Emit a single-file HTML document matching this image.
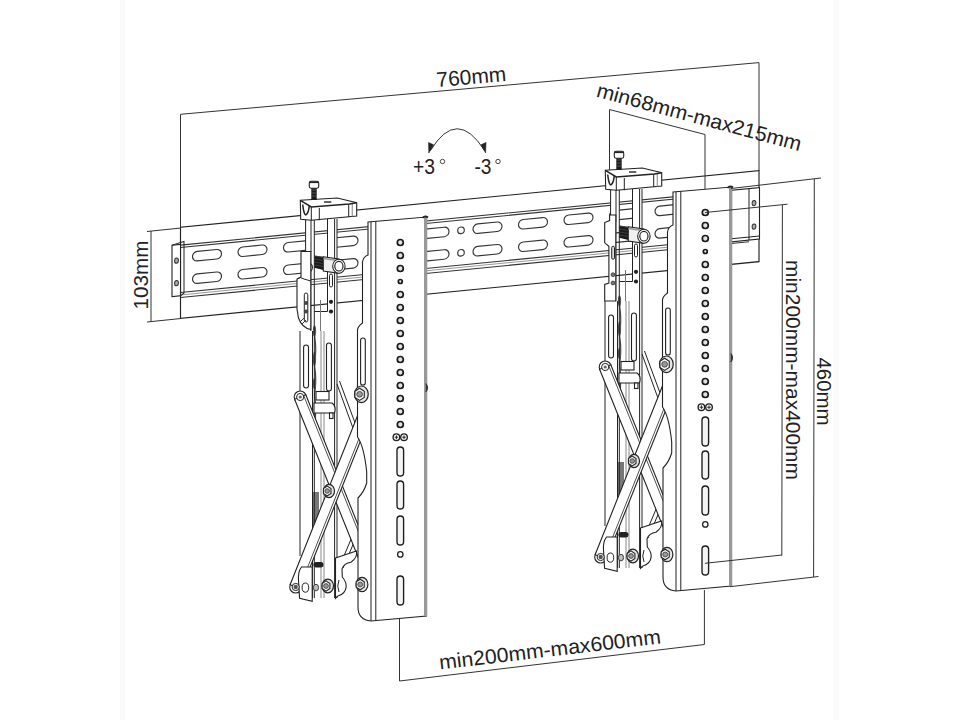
<!DOCTYPE html><html><head><meta charset="utf-8"><style>html,body{margin:0;padding:0;background:#fff;width:960px;height:720px;overflow:hidden}svg{display:block}</style></head><body><svg width="960" height="720" viewBox="0 0 960 720">
<rect width="960" height="720" fill="#fff"/>
<rect x="120" y="0" width="5" height="720" fill="#fafafa"/>
<rect x="834" y="0" width="5" height="720" fill="#fafafa"/>
<g transform="matrix(1,-0.098,0,1,0,0)">
<rect x="180.5" y="245" width="578.5" height="91" fill="#fff" stroke="#222" stroke-width="1.15"/>
<path d="M180.5 262.8 L749 262.8 M180.5 265.2 L749 265.2 M180.5 310.2 L749 310.2 M180.5 315.2 L749 315.2" stroke="#333" stroke-width="1.1" fill="none"/><path d="M180.5 312.6 L749 312.6" stroke="#999" stroke-width="1" fill="none"/>
<rect x="192.50" y="270.75" width="29.00" height="9.50" rx="4.75" fill="#fff" stroke="#333" stroke-width="1.15"/>
<rect x="192.50" y="293.25" width="29.00" height="9.50" rx="4.75" fill="#fff" stroke="#333" stroke-width="1.15"/>
<rect x="238.00" y="270.75" width="29.00" height="9.50" rx="4.75" fill="#fff" stroke="#333" stroke-width="1.15"/>
<rect x="238.00" y="293.25" width="29.00" height="9.50" rx="4.75" fill="#fff" stroke="#333" stroke-width="1.15"/>
<rect x="283.50" y="270.75" width="29.00" height="9.50" rx="4.75" fill="#fff" stroke="#333" stroke-width="1.15"/>
<rect x="283.50" y="293.25" width="29.00" height="9.50" rx="4.75" fill="#fff" stroke="#333" stroke-width="1.15"/>
<rect x="329.00" y="270.75" width="29.00" height="9.50" rx="4.75" fill="#fff" stroke="#333" stroke-width="1.15"/>
<rect x="329.00" y="293.25" width="29.00" height="9.50" rx="4.75" fill="#fff" stroke="#333" stroke-width="1.15"/>
<rect x="374.50" y="270.75" width="29.00" height="9.50" rx="4.75" fill="#fff" stroke="#333" stroke-width="1.15"/>
<rect x="374.50" y="293.25" width="29.00" height="9.50" rx="4.75" fill="#fff" stroke="#333" stroke-width="1.15"/>
<rect x="420.00" y="270.75" width="29.00" height="9.50" rx="4.75" fill="#fff" stroke="#333" stroke-width="1.15"/>
<rect x="420.00" y="293.25" width="29.00" height="9.50" rx="4.75" fill="#fff" stroke="#333" stroke-width="1.15"/>
<rect x="473.00" y="270.75" width="29.00" height="9.50" rx="4.75" fill="#fff" stroke="#333" stroke-width="1.15"/>
<rect x="473.00" y="293.25" width="29.00" height="9.50" rx="4.75" fill="#fff" stroke="#333" stroke-width="1.15"/>
<rect x="518.50" y="270.75" width="29.00" height="9.50" rx="4.75" fill="#fff" stroke="#333" stroke-width="1.15"/>
<rect x="518.50" y="293.25" width="29.00" height="9.50" rx="4.75" fill="#fff" stroke="#333" stroke-width="1.15"/>
<rect x="564.00" y="270.75" width="29.00" height="9.50" rx="4.75" fill="#fff" stroke="#333" stroke-width="1.15"/>
<rect x="564.00" y="293.25" width="29.00" height="9.50" rx="4.75" fill="#fff" stroke="#333" stroke-width="1.15"/>
<rect x="609.50" y="270.75" width="29.00" height="9.50" rx="4.75" fill="#fff" stroke="#333" stroke-width="1.15"/>
<rect x="609.50" y="293.25" width="29.00" height="9.50" rx="4.75" fill="#fff" stroke="#333" stroke-width="1.15"/>
<rect x="655.00" y="270.75" width="29.00" height="9.50" rx="4.75" fill="#fff" stroke="#333" stroke-width="1.15"/>
<rect x="655.00" y="293.25" width="29.00" height="9.50" rx="4.75" fill="#fff" stroke="#333" stroke-width="1.15"/>
<rect x="700.50" y="270.75" width="29.00" height="9.50" rx="4.75" fill="#fff" stroke="#333" stroke-width="1.15"/>
<rect x="700.50" y="293.25" width="29.00" height="9.50" rx="4.75" fill="#fff" stroke="#333" stroke-width="1.15"/>
<circle cx="461" cy="275.5" r="3.3" fill="#fff" stroke="#333" stroke-width="1.1"/>
<circle cx="461" cy="298" r="3.3" fill="#fff" stroke="#333" stroke-width="1.1"/>
<path d="M172 262 L180.5 262 L180.5 313.5 L172 313.5 Z" fill="#fff" stroke="#222" stroke-width="1.1"/>
<path d="M172 262 L184 259.5 L184 311 L180.5 313.5" stroke="#222" stroke-width="1" fill="none"/>
<ellipse cx="176.5" cy="278" rx="1.9" ry="2.6" fill="#aaa" stroke="#333" stroke-width="1"/>
<ellipse cx="176.5" cy="300.5" rx="1.9" ry="2.6" fill="#aaa" stroke="#333" stroke-width="1"/>
<rect x="731.5" y="262" width="28" height="51.5" fill="#fff" stroke="#222" stroke-width="1.1"/>
<path d="M749 262 L749 313.5 M731.5 310.5 L759.5 310.5" stroke="#222" stroke-width="1" fill="none"/>
<ellipse cx="754" cy="277" rx="1.9" ry="2.6" fill="#aaa" stroke="#333" stroke-width="1"/>
<ellipse cx="754" cy="300.5" rx="1.9" ry="2.6" fill="#aaa" stroke="#333" stroke-width="1"/>
</g>
<g><rect x="300" y="331" width="37" height="267" fill="#fff"/>
<path d="M300 331 L300 556 M312.5 331 L312.5 598" stroke="#222" stroke-width="1" fill="none"/>
<path d="M321 331 L321 598 M324 331 L324 598" stroke="#888" stroke-width="1" fill="none"/>
<path d="M314.5 335 Q317 350 314.5 365 Q317 380 314.5 395 Q317 410 314.5 425" stroke="#444" stroke-width="1.2" fill="none"/>
<path d="M313 492 L319 492 L319 525 L313 525 Z" fill="#777"/>
<ellipse cx="314.5" cy="331" rx="1.6" ry="5.5" fill="#555"/><ellipse cx="314.5" cy="359" rx="1.6" ry="7.5" fill="#555"/><ellipse cx="314.5" cy="383.5" rx="1.6" ry="5.5" fill="#555"/>
<rect x="303.6" y="345" width="4.9" height="43" rx="2.45" fill="#fff" stroke="#222" stroke-width="1.1"/>
<rect x="326.5" y="343" width="4.9" height="48" rx="2.45" fill="#fff" stroke="#222" stroke-width="1.1"/>
<rect x="305.6" y="219" width="8.7" height="35" fill="#fff"/>
<rect x="327.5" y="219" width="9.5" height="92.5" fill="#fff"/>
<path d="M305.6 219 L305.6 252 M311 219 L311 252 M310.8 252 L310.8 331 M314.3 219 L314.3 598 M327.5 219 L327.5 311.5 L314.3 311.5 M334.6 219 L334.6 598 M337 219 L337 598" stroke="#222" stroke-width="1" fill="none"/>
<path d="M320.5 300 L320.5 331" stroke="#777" stroke-width="1"/>
<path d="M301 251.5 L310.8 251.5 L310.8 329.5 Q302 328 298.5 318 L297 309 L297 279 L301 277 Z" fill="#fff" stroke="#222" stroke-width="1.1"/>
<path d="M297 279 Q300 276 304 279 L310.8 281" stroke="#222" stroke-width="1" fill="none"/>
<rect x="304.3" y="293" width="3.5" height="29" rx="1.75" fill="#fff" stroke="#222" stroke-width="1"/>
<circle cx="306" cy="303" r="2.1" fill="#444"/><circle cx="306" cy="311.5" r="2.1" fill="#444"/>
<path d="M300 322 L304 318 M302 324 L306 320" stroke="#333" stroke-width="1"/>
<rect x="329.5" y="274" width="3" height="13" rx="1.5" fill="#fff" stroke="#222" stroke-width="1"/>
<circle cx="331" cy="301.8" r="2.1" fill="#222"/>
<circle cx="331" cy="311.5" r="2.1" fill="#222"/>
<path d="M314.3 255.5 L323.3 256.7 L323.3 270 L314.3 267.8 Z" fill="#1a1a1a"/>
<path d="M314.3 256 L323.3 257.5 M314.3 259 L323.3 260.5 M314.3 262 L323.3 263.5 M314.3 265 L323.3 266.5" stroke="#555" stroke-width="0.6"/>
<path d="M323.3 256.7 L338.9 259 L338.9 273.3 L323.3 271 Z" fill="#f0f0f0" stroke="#222" stroke-width="1.1"/>
<path d="M323.3 258.5 L338 260.5" stroke="#999" stroke-width="1.6"/>
<ellipse cx="338.9" cy="266.2" rx="6.2" ry="7" fill="#fff" stroke="#222" stroke-width="1.1"/>
<ellipse cx="338.9" cy="266.2" rx="4.1" ry="4.8" fill="none" stroke="#222" stroke-width="1.2"/>
<path d="M337 384 L358 442 M339.5 381 L358 431 M358.5 521.6 L338.6 568.6 M358 533 L343 568" stroke="#222" stroke-width="1" fill="none"/>
<circle cx="300.2" cy="397" r="6" fill="#fff" stroke="#222" stroke-width="1.1"/>
<path d="M294.6 399.2 L368.2 582.2 L379.3 577.8 L305.8 394.8 Z" fill="#fff" stroke="#222" stroke-width="1.1"/><path d="M303.7 395.6 L377.2 578.6" stroke="#222" stroke-width="0.8"/>
<circle cx="300.2" cy="397" r="3.6" fill="#fff" stroke="#222" stroke-width="1"/>
<circle cx="300.2" cy="397" r="1.6" fill="#666"/>
<circle cx="295.7" cy="587" r="6" fill="#fff" stroke="#222" stroke-width="1.1"/>
<path d="M365.9 394.8 L290.1 584.8 L301.3 589.2 L377.1 399.2 Z" fill="#fff" stroke="#222" stroke-width="1.1"/><path d="M375.0 398.4 L299.2 588.4" stroke="#222" stroke-width="0.8"/>
<ellipse cx="329" cy="491" rx="5.51" ry="6.67" fill="#e6e6e6" stroke="#222" stroke-width="1.2"/><polygon points="330.97,493.46 327.20,495.93 323.43,493.46 323.43,488.54 327.20,486.07 330.97,488.54" fill="#fafafa" stroke="#222" stroke-width="1.1"/><circle cx="327.2" cy="491" r="2.32" fill="#999" stroke="#333" stroke-width="0.8"/>
<rect x="316" y="391.5" width="13" height="8.5" fill="#fff" stroke="#222" stroke-width="1.1"/>
<path d="M314 403 L332 403 Q336.5 406 334.5 413 L314 413 Z" fill="#fff" stroke="#222" stroke-width="1.1"/>
<rect x="329.5" y="413" width="3.5" height="5.5" fill="#fff" stroke="#222" stroke-width="1.1"/>
<path d="M301.5 567 L312.2 567 L312.2 601.2 L299.6 598.3 L298.6 582 Q297.5 572 301.5 567 Z" fill="#fff" stroke="#222" stroke-width="1.1"/>
<ellipse cx="305.4" cy="587.6" rx="3.3" ry="4.6" fill="#fff" stroke="#222" stroke-width="1"/>
<circle cx="295.7" cy="587" r="3.6" fill="#fff" stroke="#222" stroke-width="1"/><circle cx="295.7" cy="587" r="2.2" fill="#555"/>
<rect x="313.5" y="562" width="10" height="5.5" rx="2.7" fill="#222"/>
<path d="M335.5 558 L356.4 551 Q358 557 351 562.3 Q344 563 342 569 L342.3 577 Q346.5 582 346.2 586.6 Q345.5 594 337.4 596.3 L335.5 598.3 Z" fill="#fff" stroke="#222" stroke-width="1.1"/>
<path d="M339 580 Q336.5 586 339 592" stroke="#222" stroke-width="1" fill="none"/>
<ellipse cx="327.8" cy="586" rx="5.70" ry="6.90" fill="#e6e6e6" stroke="#222" stroke-width="1.2"/><polygon points="329.90,588.55 326.00,591.10 322.10,588.55 322.10,583.45 326.00,580.90 329.90,583.45" fill="#fafafa" stroke="#222" stroke-width="1.1"/><circle cx="326.0" cy="586" r="2.40" fill="#999" stroke="#333" stroke-width="0.8"/>
<ellipse cx="316" cy="587.6" rx="2.6" ry="3.3" fill="#bbb" stroke="#333" stroke-width="0.9"/>
<path d="M300.3 200.3 L337.3 198 L356.7 202.7 L356.7 216 L311.3 220.3 L300.7 219.3 Z" fill="#fff" stroke="#222" stroke-width="1.1"/>
<path d="M311.3 207 L311.3 220.3 M319.3 208 L319.3 220.3 M348.7 204 L348.7 217" stroke="#222" stroke-width="1" fill="none"/>
<path d="M352.3 203.5 L352.3 216.5" stroke="#999" stroke-width="1.2"/>
<path d="M300.3 200.3 L311.3 207 L349.3 204 L356.7 202.7" stroke="#222" stroke-width="1.5" fill="none"/>
<path d="M302.7 204.5 Q304 216 306.2 214.7 Q308.5 213 309.3 205.8" stroke="#222" stroke-width="1.5" fill="none"/>
<path d="M324 202 L331.3 202" stroke="#333" stroke-width="1.5"/>
<rect x="311.3" y="187.5" width="5.4" height="12.5" fill="#1a1a1a"/>
<path d="M311.3 190 L316.7 190 M311.3 193 L316.7 193 M311.3 196 L316.7 196" stroke="#777" stroke-width="0.6"/>
<rect x="309.3" y="181.3" width="9.4" height="6.9" rx="1.6" fill="#fff" stroke="#222" stroke-width="1.1"/>
<path d="M309.8 182.3 L318.2 182.3" stroke="#222" stroke-width="1.6"/>
<path d="M368 222 L426.5 217 L426.5 616 L371 621 Q358 620 358 607 L358 498 Q364 492 366.7 483 L366.7 472 Q364 446 357.5 437 L357.5 330 Q358 326 362.5 323 L362.5 262 Q363 257 368 255 Z" fill="#fff" stroke="#222" stroke-width="1.1"/>
<path d="M425.6 217.5 L425.6 616" stroke="#999" stroke-width="3.2"/>
<path d="M422.5 218 Q425 215 428 217.5" stroke="#222" stroke-width="1.8" fill="none"/>
<path d="M425.8 383.5 Q429 387.8 425.8 392" fill="#333" stroke="#333" stroke-width="1.2"/>
<path d="M371 221.7 L371 621 M375.8 221.3 L375.8 620.6" stroke="#222" stroke-width="1" fill="none"/>
<rect x="360.6" y="338" width="4.7" height="47" rx="2.35" fill="#fff" stroke="#222" stroke-width="1.1"/>
<ellipse cx="361.4" cy="394.3" rx="6.84" ry="8.28" fill="#e6e6e6" stroke="#222" stroke-width="1.2"/><polygon points="364.28,397.36 359.60,400.42 354.92,397.36 354.92,391.24 359.60,388.18 364.28,391.24" fill="#fafafa" stroke="#222" stroke-width="1.1"/><circle cx="359.59999999999997" cy="394.3" r="2.88" fill="#999" stroke="#333" stroke-width="0.8"/>
<ellipse cx="362" cy="584.5" rx="5.89" ry="7.13" fill="#e6e6e6" stroke="#222" stroke-width="1.2"/><polygon points="364.23,587.13 360.20,589.77 356.17,587.13 356.17,581.87 360.20,579.23 364.23,581.87" fill="#fafafa" stroke="#222" stroke-width="1.1"/><circle cx="360.2" cy="584.5" r="2.48" fill="#999" stroke="#333" stroke-width="0.8"/>
<circle cx="400.3" cy="242.5" r="3.0" fill="#e2e2e2" stroke="#1a1a1a" stroke-width="1.7"/>
<circle cx="400.3" cy="255.5" r="3.0" fill="#e2e2e2" stroke="#1a1a1a" stroke-width="1.7"/>
<circle cx="400.3" cy="268.5" r="3.0" fill="#e2e2e2" stroke="#1a1a1a" stroke-width="1.7"/>
<circle cx="400.3" cy="281.5" r="2.0" fill="#e2e2e2" stroke="#1a1a1a" stroke-width="1.7"/>
<circle cx="400.3" cy="294.5" r="3.0" fill="#e2e2e2" stroke="#1a1a1a" stroke-width="1.7"/>
<circle cx="400.3" cy="307.5" r="3.0" fill="#e2e2e2" stroke="#1a1a1a" stroke-width="1.7"/>
<circle cx="400.3" cy="320.5" r="3.0" fill="#e2e2e2" stroke="#1a1a1a" stroke-width="1.7"/>
<circle cx="400.3" cy="333.5" r="3.0" fill="#e2e2e2" stroke="#1a1a1a" stroke-width="1.7"/>
<circle cx="400.3" cy="346.5" r="3.0" fill="#e2e2e2" stroke="#1a1a1a" stroke-width="1.7"/>
<circle cx="400.3" cy="359.5" r="3.0" fill="#e2e2e2" stroke="#1a1a1a" stroke-width="1.7"/>
<circle cx="400.3" cy="372.5" r="3.0" fill="#e2e2e2" stroke="#1a1a1a" stroke-width="1.7"/>
<circle cx="400.3" cy="385.5" r="3.0" fill="#e2e2e2" stroke="#1a1a1a" stroke-width="1.7"/>
<circle cx="400.3" cy="398.5" r="3.0" fill="#e2e2e2" stroke="#1a1a1a" stroke-width="1.7"/>
<circle cx="400.3" cy="411.5" r="3.0" fill="#e2e2e2" stroke="#1a1a1a" stroke-width="1.7"/>
<circle cx="400.3" cy="424.5" r="3.0" fill="#e2e2e2" stroke="#1a1a1a" stroke-width="1.7"/>
<circle cx="396.4" cy="437.2" r="3.3" fill="#fff" stroke="#222" stroke-width="1.4"/><path d="M394.6 437.2 L398.2 437.2 M396.4 435.4 L396.4 439" stroke="#222" stroke-width="1" fill="none"/>
<circle cx="404" cy="437.2" r="3.3" fill="#fff" stroke="#222" stroke-width="1.4"/><path d="M402.2 437.2 L405.8 437.2 M404 435.4 L404 439" stroke="#222" stroke-width="1" fill="none"/>
<rect x="397" y="447" width="6.6" height="29" rx="3.3" fill="#f4f4f4" stroke="#1a1a1a" stroke-width="1.35"/>
<rect x="397" y="481" width="6.6" height="28" rx="3.3" fill="#f4f4f4" stroke="#1a1a1a" stroke-width="1.35"/>
<rect x="397" y="516" width="6.6" height="29" rx="3.3" fill="#f4f4f4" stroke="#1a1a1a" stroke-width="1.35"/>
<rect x="397" y="576" width="6.6" height="29" rx="3.3" fill="#f4f4f4" stroke="#1a1a1a" stroke-width="1.35"/>
<circle cx="400.3" cy="554.4" r="2.7" fill="#fff" stroke="#222" stroke-width="1.3"/></g>
<g transform="translate(305 -30)"><rect x="300" y="331" width="37" height="267" fill="#fff"/>
<path d="M300 331 L300 556 M312.5 331 L312.5 598" stroke="#222" stroke-width="1" fill="none"/>
<path d="M321 331 L321 598 M324 331 L324 598" stroke="#888" stroke-width="1" fill="none"/>
<path d="M314.5 335 Q317 350 314.5 365 Q317 380 314.5 395 Q317 410 314.5 425" stroke="#444" stroke-width="1.2" fill="none"/>
<path d="M313 492 L319 492 L319 525 L313 525 Z" fill="#777"/>
<ellipse cx="314.5" cy="331" rx="1.6" ry="5.5" fill="#555"/><ellipse cx="314.5" cy="359" rx="1.6" ry="7.5" fill="#555"/><ellipse cx="314.5" cy="383.5" rx="1.6" ry="5.5" fill="#555"/>
<rect x="303.6" y="345" width="4.9" height="43" rx="2.45" fill="#fff" stroke="#222" stroke-width="1.1"/>
<rect x="326.5" y="343" width="4.9" height="48" rx="2.45" fill="#fff" stroke="#222" stroke-width="1.1"/>
<rect x="305.6" y="219" width="8.7" height="35" fill="#fff"/>
<rect x="327.5" y="219" width="9.5" height="92.5" fill="#fff"/>
<path d="M305.6 219 L305.6 252 M311 219 L311 252 M310.8 252 L310.8 331 M314.3 219 L314.3 598 M327.5 219 L327.5 311.5 L314.3 311.5 M334.6 219 L334.6 598 M337 219 L337 598" stroke="#222" stroke-width="1" fill="none"/>
<path d="M320.5 300 L320.5 331" stroke="#777" stroke-width="1"/>
<path d="M304.6 245 L304.6 250.6 L299.7 252.6 L299.7 272.8 L303.9 276.25 L303.9 313 L299.7 314.4 L299.7 331 L310.8 331 L310.8 245 Z" fill="#fff" stroke="#222" stroke-width="1.1"/>
<rect x="306.7" y="276.25" width="2.8" height="13" rx="1.4" fill="#ddd" stroke="#222" stroke-width="1"/>
<circle cx="308" cy="304.7" r="1.9" fill="#777" stroke="#333" stroke-width="0.8"/><circle cx="308" cy="313" r="1.9" fill="#777" stroke="#333" stroke-width="0.8"/>
<rect x="329.5" y="274" width="3" height="13" rx="1.5" fill="#fff" stroke="#222" stroke-width="1"/>
<circle cx="331" cy="301.8" r="2.1" fill="#222"/>
<circle cx="331" cy="311.5" r="2.1" fill="#222"/>
<path d="M314.3 255.5 L323.3 256.7 L323.3 270 L314.3 267.8 Z" fill="#1a1a1a"/>
<path d="M314.3 256 L323.3 257.5 M314.3 259 L323.3 260.5 M314.3 262 L323.3 263.5 M314.3 265 L323.3 266.5" stroke="#555" stroke-width="0.6"/>
<path d="M323.3 256.7 L338.9 259 L338.9 273.3 L323.3 271 Z" fill="#f0f0f0" stroke="#222" stroke-width="1.1"/>
<path d="M323.3 258.5 L338 260.5" stroke="#999" stroke-width="1.6"/>
<ellipse cx="338.9" cy="266.2" rx="6.2" ry="7" fill="#fff" stroke="#222" stroke-width="1.1"/>
<ellipse cx="338.9" cy="266.2" rx="4.1" ry="4.8" fill="none" stroke="#222" stroke-width="1.2"/>
<path d="M337 384 L358 442 M339.5 381 L358 431 M358.5 521.6 L338.6 568.6 M358 533 L343 568" stroke="#222" stroke-width="1" fill="none"/>
<circle cx="300.2" cy="397" r="6" fill="#fff" stroke="#222" stroke-width="1.1"/>
<path d="M294.6 399.2 L368.2 582.2 L379.3 577.8 L305.8 394.8 Z" fill="#fff" stroke="#222" stroke-width="1.1"/><path d="M303.7 395.6 L377.2 578.6" stroke="#222" stroke-width="0.8"/>
<circle cx="300.2" cy="397" r="3.6" fill="#fff" stroke="#222" stroke-width="1"/>
<circle cx="300.2" cy="397" r="1.6" fill="#666"/>
<circle cx="295.7" cy="587" r="6" fill="#fff" stroke="#222" stroke-width="1.1"/>
<path d="M365.9 394.8 L290.1 584.8 L301.3 589.2 L377.1 399.2 Z" fill="#fff" stroke="#222" stroke-width="1.1"/><path d="M375.0 398.4 L299.2 588.4" stroke="#222" stroke-width="0.8"/>
<ellipse cx="329" cy="491" rx="5.51" ry="6.67" fill="#e6e6e6" stroke="#222" stroke-width="1.2"/><polygon points="330.97,493.46 327.20,495.93 323.43,493.46 323.43,488.54 327.20,486.07 330.97,488.54" fill="#fafafa" stroke="#222" stroke-width="1.1"/><circle cx="327.2" cy="491" r="2.32" fill="#999" stroke="#333" stroke-width="0.8"/>
<rect x="316" y="391.5" width="13" height="8.5" fill="#fff" stroke="#222" stroke-width="1.1"/>
<path d="M314 403 L332 403 Q336.5 406 334.5 413 L314 413 Z" fill="#fff" stroke="#222" stroke-width="1.1"/>
<rect x="329.5" y="413" width="3.5" height="5.5" fill="#fff" stroke="#222" stroke-width="1.1"/>
<path d="M301.5 567 L312.2 567 L312.2 601.2 L299.6 598.3 L298.6 582 Q297.5 572 301.5 567 Z" fill="#fff" stroke="#222" stroke-width="1.1"/>
<ellipse cx="305.4" cy="587.6" rx="3.3" ry="4.6" fill="#fff" stroke="#222" stroke-width="1"/>
<circle cx="295.7" cy="587" r="3.6" fill="#fff" stroke="#222" stroke-width="1"/><circle cx="295.7" cy="587" r="2.2" fill="#555"/>
<rect x="313.5" y="562" width="10" height="5.5" rx="2.7" fill="#222"/>
<path d="M335.5 558 L356.4 551 Q358 557 351 562.3 Q344 563 342 569 L342.3 577 Q346.5 582 346.2 586.6 Q345.5 594 337.4 596.3 L335.5 598.3 Z" fill="#fff" stroke="#222" stroke-width="1.1"/>
<path d="M339 580 Q336.5 586 339 592" stroke="#222" stroke-width="1" fill="none"/>
<ellipse cx="327.8" cy="586" rx="5.70" ry="6.90" fill="#e6e6e6" stroke="#222" stroke-width="1.2"/><polygon points="329.90,588.55 326.00,591.10 322.10,588.55 322.10,583.45 326.00,580.90 329.90,583.45" fill="#fafafa" stroke="#222" stroke-width="1.1"/><circle cx="326.0" cy="586" r="2.40" fill="#999" stroke="#333" stroke-width="0.8"/>
<ellipse cx="316" cy="587.6" rx="2.6" ry="3.3" fill="#bbb" stroke="#333" stroke-width="0.9"/>
<path d="M300.3 200.3 L337.3 198 L356.7 202.7 L356.7 216 L311.3 220.3 L300.7 219.3 Z" fill="#fff" stroke="#222" stroke-width="1.1"/>
<path d="M311.3 207 L311.3 220.3 M319.3 208 L319.3 220.3 M348.7 204 L348.7 217" stroke="#222" stroke-width="1" fill="none"/>
<path d="M352.3 203.5 L352.3 216.5" stroke="#999" stroke-width="1.2"/>
<path d="M300.3 200.3 L311.3 207 L349.3 204 L356.7 202.7" stroke="#222" stroke-width="1.5" fill="none"/>
<path d="M302.7 204.5 Q304 216 306.2 214.7 Q308.5 213 309.3 205.8" stroke="#222" stroke-width="1.5" fill="none"/>
<path d="M324 202 L331.3 202" stroke="#333" stroke-width="1.5"/>
<rect x="311.3" y="187.5" width="5.4" height="12.5" fill="#1a1a1a"/>
<path d="M311.3 190 L316.7 190 M311.3 193 L316.7 193 M311.3 196 L316.7 196" stroke="#777" stroke-width="0.6"/>
<rect x="309.3" y="181.3" width="9.4" height="6.9" rx="1.6" fill="#fff" stroke="#222" stroke-width="1.1"/>
<path d="M309.8 182.3 L318.2 182.3" stroke="#222" stroke-width="1.6"/>
<path d="M368 222 L426.5 217 L426.5 616 L371 621 Q358 620 358 607 L358 498 Q364 492 366.7 483 L366.7 472 Q364 446 357.5 437 L357.5 330 Q358 326 362.5 323 L362.5 262 Q363 257 368 255 Z" fill="#fff" stroke="#222" stroke-width="1.1"/>
<path d="M425.6 217.5 L425.6 616" stroke="#999" stroke-width="3.2"/>
<path d="M422.5 218 Q425 215 428 217.5" stroke="#222" stroke-width="1.8" fill="none"/>
<path d="M425.8 383.5 Q429 387.8 425.8 392" fill="#333" stroke="#333" stroke-width="1.2"/>
<path d="M371 221.7 L371 621 M375.8 221.3 L375.8 620.6" stroke="#222" stroke-width="1" fill="none"/>
<rect x="360.6" y="338" width="4.7" height="47" rx="2.35" fill="#fff" stroke="#222" stroke-width="1.1"/>
<ellipse cx="361.4" cy="394.3" rx="6.84" ry="8.28" fill="#e6e6e6" stroke="#222" stroke-width="1.2"/><polygon points="364.28,397.36 359.60,400.42 354.92,397.36 354.92,391.24 359.60,388.18 364.28,391.24" fill="#fafafa" stroke="#222" stroke-width="1.1"/><circle cx="359.59999999999997" cy="394.3" r="2.88" fill="#999" stroke="#333" stroke-width="0.8"/>
<ellipse cx="362" cy="584.5" rx="5.89" ry="7.13" fill="#e6e6e6" stroke="#222" stroke-width="1.2"/><polygon points="364.23,587.13 360.20,589.77 356.17,587.13 356.17,581.87 360.20,579.23 364.23,581.87" fill="#fafafa" stroke="#222" stroke-width="1.1"/><circle cx="360.2" cy="584.5" r="2.48" fill="#999" stroke="#333" stroke-width="0.8"/>
<circle cx="400.3" cy="242.5" r="3.0" fill="#e2e2e2" stroke="#1a1a1a" stroke-width="1.7"/>
<circle cx="400.3" cy="255.5" r="3.0" fill="#e2e2e2" stroke="#1a1a1a" stroke-width="1.7"/>
<circle cx="400.3" cy="268.5" r="3.0" fill="#e2e2e2" stroke="#1a1a1a" stroke-width="1.7"/>
<circle cx="400.3" cy="281.5" r="2.0" fill="#e2e2e2" stroke="#1a1a1a" stroke-width="1.7"/>
<circle cx="400.3" cy="294.5" r="3.0" fill="#e2e2e2" stroke="#1a1a1a" stroke-width="1.7"/>
<circle cx="400.3" cy="307.5" r="3.0" fill="#e2e2e2" stroke="#1a1a1a" stroke-width="1.7"/>
<circle cx="400.3" cy="320.5" r="3.0" fill="#e2e2e2" stroke="#1a1a1a" stroke-width="1.7"/>
<circle cx="400.3" cy="333.5" r="3.0" fill="#e2e2e2" stroke="#1a1a1a" stroke-width="1.7"/>
<circle cx="400.3" cy="346.5" r="3.0" fill="#e2e2e2" stroke="#1a1a1a" stroke-width="1.7"/>
<circle cx="400.3" cy="359.5" r="3.0" fill="#e2e2e2" stroke="#1a1a1a" stroke-width="1.7"/>
<circle cx="400.3" cy="372.5" r="3.0" fill="#e2e2e2" stroke="#1a1a1a" stroke-width="1.7"/>
<circle cx="400.3" cy="385.5" r="3.0" fill="#e2e2e2" stroke="#1a1a1a" stroke-width="1.7"/>
<circle cx="400.3" cy="398.5" r="3.0" fill="#e2e2e2" stroke="#1a1a1a" stroke-width="1.7"/>
<circle cx="400.3" cy="411.5" r="3.0" fill="#e2e2e2" stroke="#1a1a1a" stroke-width="1.7"/>
<circle cx="400.3" cy="424.5" r="3.0" fill="#e2e2e2" stroke="#1a1a1a" stroke-width="1.7"/>
<circle cx="396.4" cy="437.2" r="3.3" fill="#fff" stroke="#222" stroke-width="1.4"/><path d="M394.6 437.2 L398.2 437.2 M396.4 435.4 L396.4 439" stroke="#222" stroke-width="1" fill="none"/>
<circle cx="404" cy="437.2" r="3.3" fill="#fff" stroke="#222" stroke-width="1.4"/><path d="M402.2 437.2 L405.8 437.2 M404 435.4 L404 439" stroke="#222" stroke-width="1" fill="none"/>
<rect x="397" y="447" width="6.6" height="29" rx="3.3" fill="#f4f4f4" stroke="#1a1a1a" stroke-width="1.35"/>
<rect x="397" y="481" width="6.6" height="28" rx="3.3" fill="#f4f4f4" stroke="#1a1a1a" stroke-width="1.35"/>
<rect x="397" y="516" width="6.6" height="29" rx="3.3" fill="#f4f4f4" stroke="#1a1a1a" stroke-width="1.35"/>
<rect x="397" y="576" width="6.6" height="29" rx="3.3" fill="#f4f4f4" stroke="#1a1a1a" stroke-width="1.35"/>
<circle cx="400.3" cy="554.4" r="2.7" fill="#fff" stroke="#222" stroke-width="1.3"/></g>
<path d="M180.5 114.3 L759 62.6 M180.5 114.3 L180.5 228 M759 62.6 L759 171" stroke="#333" stroke-width="1" fill="none"/>
<path d="M151 231 L151 322 M147 231.5 L181 228 M147 322 L181 318.5" stroke="#333" stroke-width="1" fill="none"/>
<path d="M609.5 109.5 L705 134.5 M609.5 109.5 L609.5 170 M705 134.5 L705 189" stroke="#333" stroke-width="1" fill="none"/>
<path d="M731 188.5 L821 178 M814.3 179 L813.6 577 M730 586.7 L818.5 576.5" stroke="#333" stroke-width="1" fill="none"/>
<path d="M705 212.5 L787.5 204.2 M782.4 205 L781.8 555.5 M705 563.3 L782 555" stroke="#333" stroke-width="1" fill="none"/>
<path d="M399.5 619 L399.5 681 L704.4 644.5 L704.4 590" stroke="#333" stroke-width="1" fill="none"/>
<path d="M430.5 150.5 Q457 107 484.5 150.5" stroke="#333" stroke-width="1" fill="none"/>
<path d="M428.8 153 L428.6 142.5 L433.6 144.8 Z" fill="#222" stroke="#222" stroke-width="0.6"/>
<path d="M485.6 153 L486 142.5 L481 144.8 Z" fill="#222" stroke="#222" stroke-width="0.6"/>
<text font-family="Liberation Sans, sans-serif" fill="#222" font-size="21" transform="translate(437 87) rotate(-5)" textLength="70" lengthAdjust="spacingAndGlyphs">760mm</text>
<text font-family="Liberation Sans, sans-serif" fill="#222" font-size="20" transform="translate(148 309.5) rotate(-90)" textLength="69" lengthAdjust="spacingAndGlyphs">103mm</text>
<text font-family="Liberation Sans, sans-serif" fill="#222" font-size="20.5" transform="translate(595.5 96.5) rotate(15.0)" textLength="211" lengthAdjust="spacingAndGlyphs">min68mm-max215mm</text>
<text font-family="Liberation Sans, sans-serif" fill="#222" font-size="20" transform="translate(786 260) rotate(90)" textLength="220" lengthAdjust="spacingAndGlyphs">min200mm-max400mm</text>
<text font-family="Liberation Sans, sans-serif" fill="#222" font-size="20" transform="translate(817 357.5) rotate(90)" textLength="68" lengthAdjust="spacingAndGlyphs">460mm</text>
<text font-family="Liberation Sans, sans-serif" fill="#222" font-size="20.5" transform="translate(440 669.5) rotate(-6.7)" textLength="223" lengthAdjust="spacingAndGlyphs">min200mm-max600mm</text>
<text font-family="Liberation Sans, sans-serif" fill="#222" font-size="21.5" x="413" y="174" textLength="22" lengthAdjust="spacingAndGlyphs">+3</text>
<text font-family="Liberation Sans, sans-serif" fill="#222" font-size="21.5" x="474.5" y="174" textLength="17" lengthAdjust="spacingAndGlyphs">-3</text>
<circle cx="442.5" cy="161.5" r="2.2" fill="none" stroke="#333" stroke-width="0.9"/>
<circle cx="498" cy="161.5" r="2.2" fill="none" stroke="#333" stroke-width="0.9"/>
</svg></body></html>
